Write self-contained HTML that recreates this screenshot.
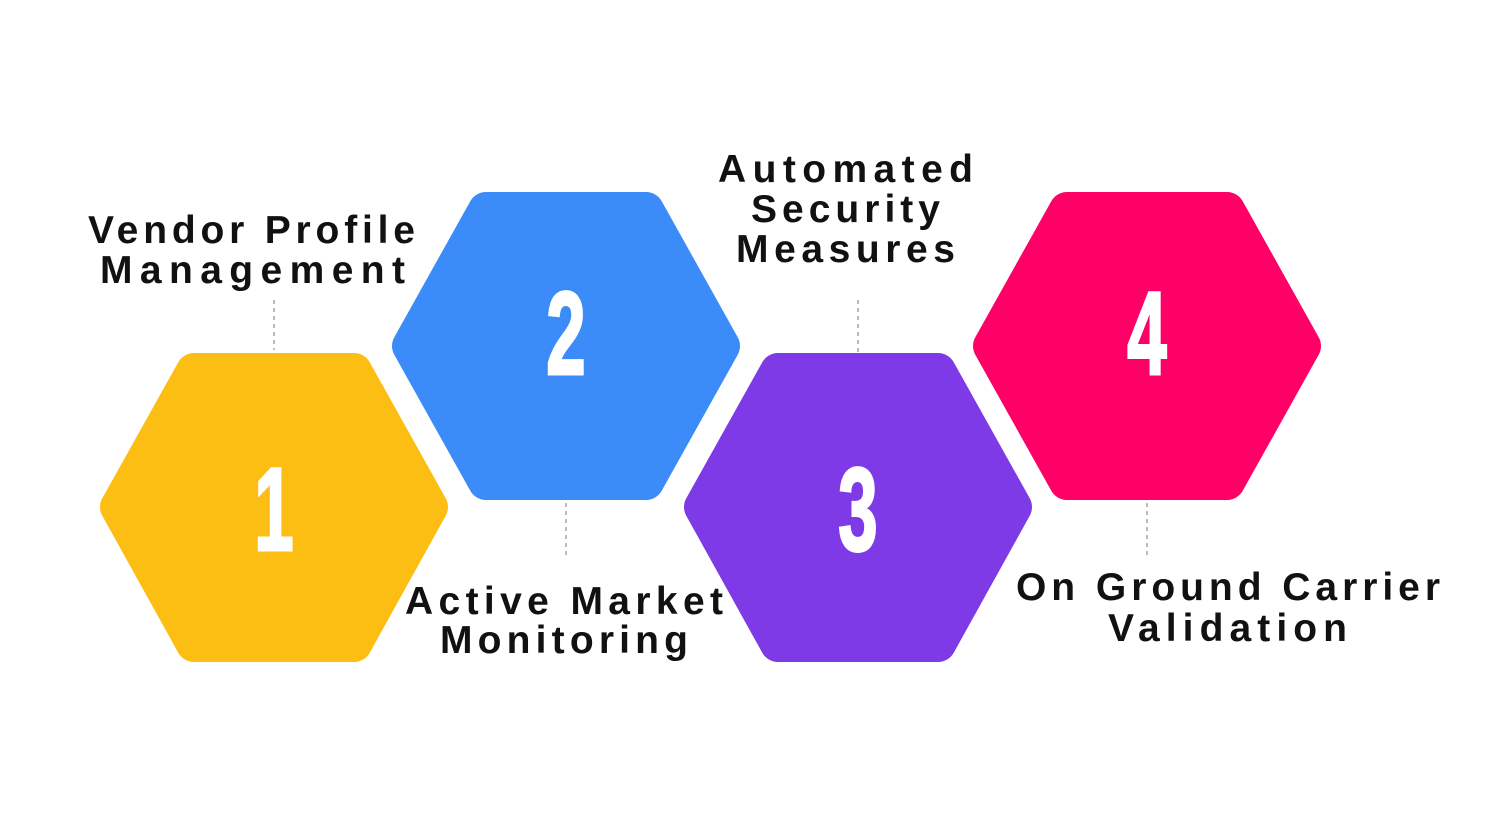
<!DOCTYPE html>
<html><head><meta charset="utf-8"><style>
html,body{margin:0;padding:0;background:#fff;}
svg{display:block}
.t{font-family:"Liberation Sans",sans-serif;font-weight:bold;font-size:39px;fill:#111;}
.n{font-family:"Liberation Sans",sans-serif;font-weight:bold;font-size:118px;fill:#fff;stroke:#fff;stroke-width:3;}
</style></head><body>
<svg width="1500" height="819" viewBox="0 0 1500 819" xmlns="http://www.w3.org/2000/svg">
<g stroke-linejoin="round" stroke-width="36">
<polygon points="118,507 194,371 354,371 430,507 354,644 194,644" fill="#FDBE13" stroke="#FDBE13"/>
<polygon points="410,346 486,210 646,210 722,346 646,482 486,482" fill="#3B8BF9" stroke="#3B8BF9"/>
<polygon points="702,507 778,371 938,371 1014,507 938,644 778,644" fill="#7E3AE6" stroke="#7E3AE6"/>
<polygon points="991,346 1067,210 1227,210 1303,346 1227,482 1067,482" fill="#FF0066" stroke="#FF0066"/>
</g>
<g stroke="#bbb" stroke-width="2" stroke-dasharray="4,4">
<line x1="274" y1="300" x2="274" y2="350"/>
<line x1="566" y1="503" x2="566" y2="556"/>
<line x1="858" y1="300" x2="858" y2="352"/>
<line x1="1147" y1="503" x2="1147" y2="556"/>
</g>
<g text-anchor="middle">
<text x="274" y="550" transform="translate(274 0) scale(0.6 1) translate(-274 0)" class="n">1</text>
<text x="566" y="374" transform="translate(566 0) scale(0.6 1) translate(-566 0)" class="n">2</text>
<text x="858" y="550" transform="translate(858 0) scale(0.6 1) translate(-858 0)" class="n">3</text>
<text x="1147" y="374" transform="translate(1147 0) scale(0.6 1) translate(-1147 0)" class="n">4</text>
</g>
<g class="t">
<text x="88" y="243" textLength="327" lengthAdjust="spacing">Vendor Profile</text>
<text x="100" y="283" textLength="305" lengthAdjust="spacing">Management</text>
<text x="718" y="182" textLength="255" lengthAdjust="spacing">Automated</text>
<text x="751" y="222" textLength="189" lengthAdjust="spacing">Security</text>
<text x="736" y="262" textLength="219" lengthAdjust="spacing">Measures</text>
<text x="405" y="614" textLength="318" lengthAdjust="spacing">Active Market</text>
<text x="440" y="653" textLength="248" lengthAdjust="spacing">Monitoring</text>
<text x="1016" y="600" textLength="424" lengthAdjust="spacing">On Ground Carrier</text>
<text x="1108" y="641" textLength="239" lengthAdjust="spacing">Validation</text>
</g>
</svg>
</body></html>
